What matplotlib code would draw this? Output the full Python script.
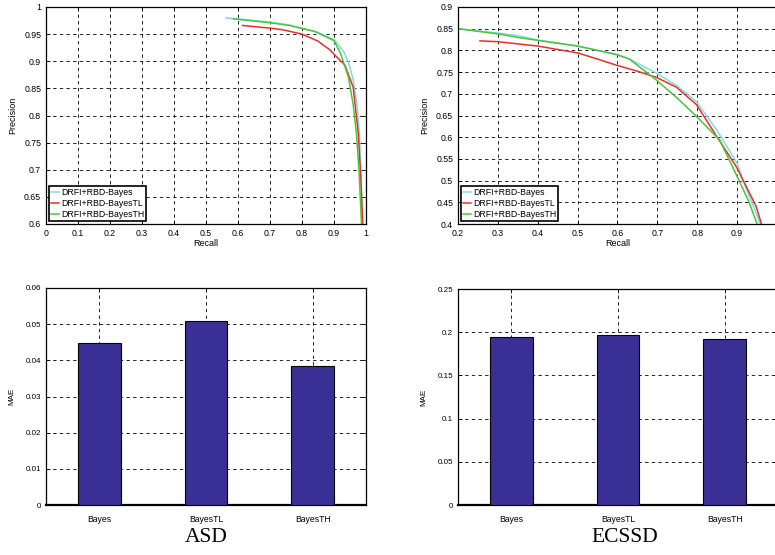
import matplotlib
matplotlib.use("Agg")
import matplotlib.pyplot as plt
import numpy as np

plt.rcParams['font.family'] = ['Liberation Sans', 'DejaVu Sans']

# ---- ASD PR curves ----
asd_bayes_r = [0.563, 0.62, 0.70, 0.76, 0.85, 0.90, 0.93, 0.945, 0.96, 0.972, 0.98, 0.985, 0.988]
asd_bayes_p = [0.980, 0.977, 0.972, 0.967, 0.953, 0.940, 0.918, 0.899, 0.866, 0.82, 0.76, 0.68, 0.60]
asd_tl_r = [0.614, 0.70, 0.74, 0.80, 0.85, 0.887, 0.91, 0.934, 0.960, 0.976, 0.984, 0.99]
asd_tl_p = [0.966, 0.961, 0.958, 0.950, 0.937, 0.921, 0.907, 0.893, 0.852, 0.767, 0.68, 0.60]
asd_th_r = [0.585, 0.70, 0.76, 0.84, 0.90, 0.92, 0.945, 0.96, 0.97, 0.978, 0.986]
asd_th_p = [0.978, 0.971, 0.966, 0.955, 0.938, 0.915, 0.871, 0.82, 0.767, 0.70, 0.60]

# ---- ECSSD PR curves ----
ec_bayes_r = [0.20, 0.25, 0.30, 0.35, 0.40, 0.50, 0.60, 0.63, 0.697, 0.75, 0.798, 0.85, 0.90, 0.915, 0.948, 0.958]
ec_bayes_p = [0.850, 0.845, 0.840, 0.834, 0.824, 0.810, 0.790, 0.780, 0.748, 0.718, 0.682, 0.615, 0.540, 0.500, 0.425, 0.40]
ec_tl_r = [0.255, 0.30, 0.40, 0.501, 0.55, 0.597, 0.65, 0.697, 0.748, 0.798, 0.85, 0.898, 0.948, 0.961]
ec_tl_p = [0.822, 0.820, 0.810, 0.794, 0.780, 0.766, 0.752, 0.738, 0.715, 0.675, 0.600, 0.532, 0.440, 0.40]
ec_th_r = [0.20, 0.25, 0.30, 0.35, 0.40, 0.50, 0.60, 0.63, 0.697, 0.75, 0.798, 0.856, 0.905, 0.93, 0.95]
ec_th_p = [0.850, 0.844, 0.838, 0.830, 0.823, 0.810, 0.790, 0.780, 0.732, 0.690, 0.648, 0.594, 0.500, 0.450, 0.40]

legend_labels = ['DRFI+RBD-Bayes', 'DRFI+RBD-BayesTL', 'DRFI+RBD-BayesTH']
line_colors = ['#7fdedd', '#e8302a', '#4cc33c']

# ---- MAE bars ----
categories = ['Bayes', 'BayesTL', 'BayesTH']
asd_mae = [0.0447, 0.0509, 0.0385]
ecssd_mae = [0.1944, 0.1967, 0.192]

bar_color = '#3a2f94'
fs_top = 6.3
fs_bar_y = 5.8
fs_bar_x = 6.2
fs_leg = 6.3
fs_lab = 6.5

fig = plt.figure(figsize=(7.75, 5.55), dpi=100)
W, H = 775, 555

def ax_at(l, t, r, b):
    return fig.add_axes([l / W, 1 - b / H, (r - l) / W, (b - t) / H])

def style(ax, fs):
    ax.grid(True, color='black', linestyle=(0, (4, 4)), linewidth=0.6)
    ax.tick_params(direction='in', length=3, labelsize=fs, width=0.6, pad=3.5,
                   top=True, right=True)
    for s in ax.spines.values():
        s.set_linewidth(0.9)

def add_legend(ax):
    leg = ax.legend(loc='lower left', fontsize=fs_leg, frameon=True, fancybox=False,
                    framealpha=1, borderaxespad=0.35, handlelength=0.9,
                    handletextpad=0.25, borderpad=0.2, labelspacing=0.25)
    leg.get_frame().set_edgecolor('black')
    leg.get_frame().set_linewidth(1.2)

# Top-left: ASD PR
ax1 = ax_at(46, 7, 366, 224)
for r, p, c, lab in [(asd_bayes_r, asd_bayes_p, line_colors[0], legend_labels[0]),
                     (asd_tl_r, asd_tl_p, line_colors[1], legend_labels[1]),
                     (asd_th_r, asd_th_p, line_colors[2], legend_labels[2])]:
    ax1.plot(r, p, color=c, lw=1.1, label=lab)
ax1.set_xlim(0, 1)
ax1.set_ylim(0.6, 1)
ax1.set_xticks(np.arange(0, 1.01, 0.1))
ax1.set_xticklabels(['0', '0.1', '0.2', '0.3', '0.4', '0.5', '0.6', '0.7', '0.8', '0.9', '1'])
ax1.set_yticks(np.arange(0.6, 1.001, 0.05))
ax1.set_yticklabels(['0.6', '0.65', '0.7', '0.75', '0.8', '0.85', '0.9', '0.95', '1'])
ax1.set_xlabel('Recall', fontsize=fs_lab, labelpad=1)
ax1.set_ylabel('Precision', fontsize=fs_lab, labelpad=5)
style(ax1, fs_top)
add_legend(ax1)

# Top-right: ECSSD PR
ax2 = ax_at(458, 7, 777, 224)
for r, p, c, lab in [(ec_bayes_r, ec_bayes_p, line_colors[0], legend_labels[0]),
                     (ec_tl_r, ec_tl_p, line_colors[1], legend_labels[1]),
                     (ec_th_r, ec_th_p, line_colors[2], legend_labels[2])]:
    ax2.plot(r, p, color=c, lw=1.1, label=lab)
ax2.set_xlim(0.2, 1)
ax2.set_ylim(0.4, 0.9)
ax2.set_xticks(np.arange(0.2, 1.001, 0.1))
ax2.set_xticklabels(['0.2', '0.3', '0.4', '0.5', '0.6', '0.7', '0.8', '0.9', ''])
ax2.set_yticks(np.arange(0.4, 0.901, 0.05))
ax2.set_yticklabels(['0.4', '0.45', '0.5', '0.55', '0.6', '0.65', '0.7', '0.75', '0.8', '0.85', '0.9'])
ax2.set_xlabel('Recall', fontsize=fs_lab, labelpad=1)
ax2.set_ylabel('Precision', fontsize=fs_lab, labelpad=5)
style(ax2, fs_top)
add_legend(ax2)

# Bottom-left: ASD MAE
ax3 = ax_at(46, 288, 366, 505)
x = np.arange(1, len(categories) + 1)
ax3.bar(x, asd_mae, width=0.4, color=bar_color, edgecolor='black', linewidth=0.8, zorder=3)
ax3.set_xlim(0.5, 3.5)
ax3.set_ylim(0, 0.06)
ax3.set_xticks(x)
ax3.set_xticklabels(categories)
ax3.set_yticks(np.arange(0, 0.0601, 0.01))
ax3.set_yticklabels(['0', '0.01', '0.02', '0.03', '0.04', '0.05', '0.06'])
ax3.set_ylabel('MAE', fontsize=5.8, labelpad=7.5)
style(ax3, fs_bar_y)
ax3.set_axisbelow(True)
ax3.spines['bottom'].set_linewidth(1.6)
ax3.tick_params(axis='x', pad=7, labelsize=fs_bar_x)

# Bottom-right: ECSSD MAE
ax4 = ax_at(458, 289, 778, 505)
ax4.bar(x, ecssd_mae, width=0.4, color=bar_color, edgecolor='black', linewidth=0.8, zorder=3)
ax4.set_xlim(0.5, 3.5)
ax4.set_ylim(0, 0.25)
ax4.set_xticks(x)
ax4.set_xticklabels(categories)
ax4.set_yticks(np.arange(0, 0.2501, 0.05))
ax4.set_yticklabels(['0', '0.05', '0.1', '0.15', '0.2', '0.25'])
ax4.set_ylabel('MAE', fontsize=5.8, labelpad=7.5)
style(ax4, fs_bar_y)
ax4.set_axisbelow(True)
ax4.spines['bottom'].set_linewidth(1.6)
ax4.tick_params(axis='x', pad=7, labelsize=fs_bar_x)

fig.text(206 / W, 1 - 537 / H, 'ASD', ha='center', va='center',
         fontsize=15.5, family=['Liberation Serif', 'DejaVu Serif'])
fig.text(625 / W, 1 - 537 / H, 'ECSSD', ha='center', va='center',
         fontsize=15.5, family=['Liberation Serif', 'DejaVu Serif'])

fig.savefig('out.png', dpi=100)
